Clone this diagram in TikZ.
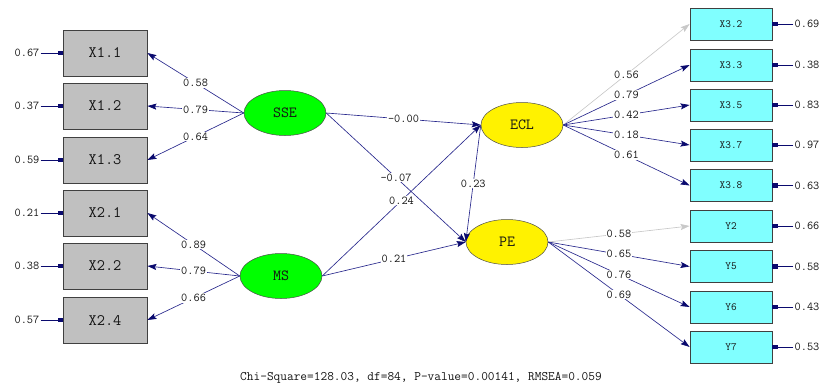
\documentclass[tikz,border=0pt]{standalone}
\usepackage{fontspec}
\usetikzlibrary{arrows.meta, shapes.geometric}
\definecolor{lisnavy}{RGB}{40,40,140}
\definecolor{headnavy}{RGB}{10,10,110}
\definecolor{boxgray}{RGB}{192,192,192}
\definecolor{boxcyan}{RGB}{128,255,255}
\definecolor{fixgray}{RGB}{200,200,200}
\definecolor{txt}{RGB}{20,20,20}

\begin{document}
\begin{tikzpicture}[x=1pt, y=-1pt, font=\ttfamily, text=txt,
  xbox/.style={draw=black!75, line width=0.8pt, fill=boxgray, minimum width=84pt, minimum height=46pt, inner sep=0pt, font=\ttfamily\fontsize{16}{16}\selectfont},
  ybox/.style={draw=black!75, line width=0.8pt, fill=boxcyan, minimum width=82pt, minimum height=32pt, inner sep=0pt, font=\ttfamily\fontsize{11}{11}\selectfont},
  latent/.style={ellipse, draw=black!70, line width=0.5pt, minimum width=82pt, minimum height=45pt, inner sep=0pt, font=\ttfamily\fontsize{15.5}{16}\selectfont},
  path/.style={draw=lisnavy, line width=0.65pt, -{Stealth[length=9pt, width=6pt, inset=1.5pt, color=headnavy]}},
  fixed/.style={path, draw=fixgray, -{Stealth[length=9pt, width=6pt, inset=1.5pt, color=fixgray]}},
  err/.style={draw=headnavy, line width=0.8pt, -{Rectangle[length=5pt, width=4.5pt]}},
  lab/.style={fill=white, inner sep=1pt, font=\ttfamily\fontsize{12}{12}\selectfont},
  errlab/.style={inner sep=1pt, font=\ttfamily\fontsize{12}{12}\selectfont}]
\useasboundingbox (0,0) rectangle (823,388);

% latent variables
\node[latent, fill=green] (sse) at (285,113) {SSE};
\node[latent, fill=green] (ms) at (281,276) {MS};
\node[latent, fill=yellow] (ecl) at (522,125) {ECL};
\node[latent, fill=yellow] (pe) at (507,242) {PE};

% left indicators with error variances
\foreach \n/\t/\y/\e in {x11/X1.1/53/0.67, x12/X1.2/106/0.37, x13/X1.3/160/0.59, x21/X2.1/213/0.21, x22/X2.2/266/0.38, x24/X2.4/320/0.57} {
  \node[xbox] (\n) at (105,\y) {\t};
  \node[errlab] (e\n) at (27,\y) {\e};
  \draw[err] (e\n) -- (\n);
}

% right indicators with error variances
\foreach \n/\t/\y/\e in {x32/X3.2/24/0.69, x33/X3.3/65/0.38, x35/X3.5/105/0.83, x37/X3.7/145/0.97, x38/X3.8/185.5/0.63, y2/Y2/226/0.66, y5/Y5/266.5/0.58, y6/Y6/307/0.43, y7/Y7/347/0.53} {
  \node[ybox] (\n) at (731,\y) {\t};
  \node[errlab] (e\n) at (807,\y) {\e};
  \draw[err] (e\n) -- (\n);
}

% loadings
\foreach \n/\v in {x11/0.58, x12/0.79, x13/0.64}
  \draw[path] (sse.west) -- node[lab] {\v} (\n.east);
\foreach \n/\v in {x21/0.89, x22/0.79, x24/0.66}
  \draw[path] (ms.west) -- node[lab] {\v} (\n.east);
\draw[fixed] (ecl.east) -- node[lab] {0.56} (x32.west);
\foreach \n/\v in {x33/0.79, x35/0.42, x37/0.18, x38/0.61}
  \draw[path] (ecl.east) -- node[lab] {\v} (\n.west);
\draw[fixed] (pe.east) -- node[lab] {0.58} (y2.west);
\foreach \n/\v in {y5/0.65, y6/0.76, y7/0.69}
  \draw[path] (pe.east) -- node[lab] {\v} (\n.west);

% structural paths
\draw[path] (sse.east) -- node[lab] {-0.00} (ecl.west);
\draw[path] (sse.east) -- node[lab] {-0.07} (pe.west);
\draw[path] (ms.east) -- node[lab] {0.24} (ecl.west);
\draw[path] (ms.east) -- node[lab] {0.21} (pe.west);
\draw[path] (ecl.west) -- node[lab] {0.23} (pe.west);

\node[font=\ttfamily\fontsize{13}{13}\selectfont] (fit) at (421,378) {Chi-Square=128.03, df=84, P-value=0.00141, RMSEA=0.059};
\end{tikzpicture}
\end{document}
